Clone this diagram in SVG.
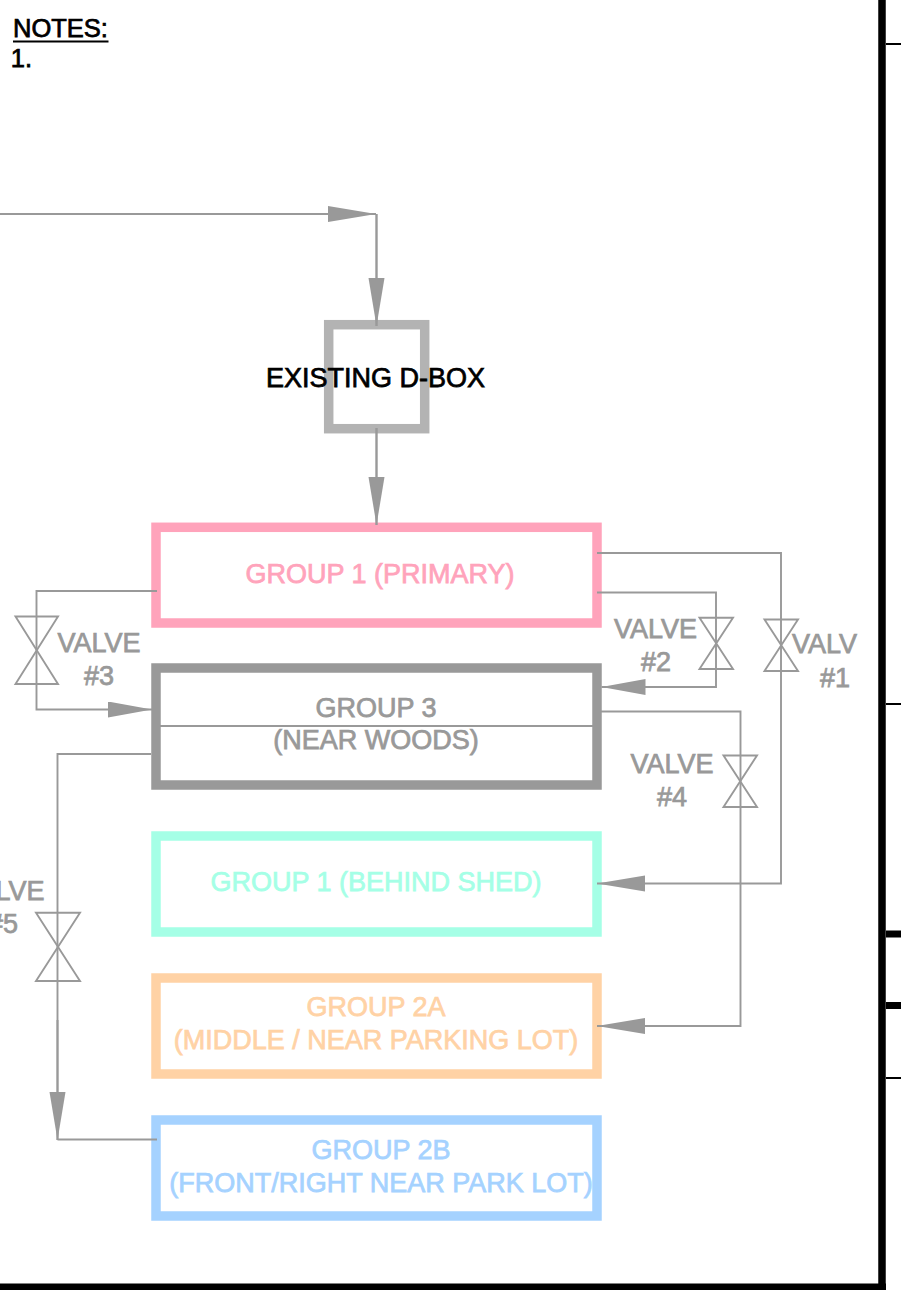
<svg xmlns="http://www.w3.org/2000/svg" width="901" height="1290" viewBox="0 0 901 1290">
<style>
text{font-family:"Liberation Sans",Arial,sans-serif;font-size:27px;text-anchor:middle;stroke-width:.75px}
.t{fill:#999;stroke:#999}
.k{fill:#000;stroke:#000}
.box{fill:none;stroke-width:9.5px}
.c{fill:none;stroke:#999;stroke-width:1.9px}
.w{stroke-width:2.4px}
.v{fill:none;stroke:#999;stroke-width:1.9px}
.f{stroke:#000;fill:none}
</style>
<defs>
<marker id="a" markerUnits="userSpaceOnUse" markerWidth="50" markerHeight="18" refX="48" refY="8" orient="auto" viewBox="0 0 50 18">
<path d="M0 0L48 8L0 16Z" fill="#999"/>
</marker>
<marker id="b" markerUnits="userSpaceOnUse" markerWidth="46" markerHeight="18" refX="44" refY="8" orient="auto" viewBox="0 0 46 18">
<path d="M0 0L44 8L0 16Z" fill="#999"/>
</marker>
</defs>
<rect width="901" height="1290" fill="#fff"/>
<g id="frame">
<path class="f" stroke-width="7.500" d="M882 0V1290"/>
<path class="f" stroke-width="7" d="M0 1287H886M886 934H901M886 1005.500H901"/>
<path class="f" stroke-width="2" d="M886 44H901M886 704H901M886 1078H901"/>
</g>
<g id="notes">
<text class="k" x="60.500" y="37" style="font-size:25.500px">NOTES:</text>
<path stroke="#000" stroke-width="2" d="M13 41.500H108.500"/>
<text class="k" x="21.500" y="67" style="font-size:25.500px">1.</text>
</g>
<g id="dbox">
<rect class="box" x="328.700" y="324.700" width="96" height="104" stroke="#b3b3b3"/>
<text class="k" x="375.500" y="387">EXISTING D-BOX</text>
</g>
<g id="group1-primary">
<rect class="box" x="156" y="527.300" width="441" height="95.700" stroke="#ffa3bb"/>
<text x="380" y="583" fill="#ffa3bb" stroke="#ffa3bb">GROUP 1 (PRIMARY)</text>
</g>
<g id="group3">
<rect class="box" x="156" y="668" width="441" height="117" stroke="#999"/>
<path class="c" d="M160 726H597"/>
<text class="t" x="376" y="717">GROUP 3</text>
<text class="t" x="376" y="749">(NEAR WOODS)</text>
</g>
<g id="group1-shed">
<rect class="box" x="156" y="836" width="441" height="96" stroke="#a5ffe6"/>
<text x="376" y="891" fill="#a5ffe6" stroke="#a5ffe6">GROUP 1 (BEHIND SHED)</text>
</g>
<g id="group2a">
<rect class="box" x="156" y="978" width="441" height="96" stroke="#ffd2a5"/>
<text x="376" y="1016" fill="#ffd2a5" stroke="#ffd2a5">GROUP 2A</text>
<text x="376" y="1049" fill="#ffd2a5" stroke="#ffd2a5">(MIDDLE / NEAR PARKING LOT)</text>
</g>
<g id="group2b">
<rect class="box" x="156" y="1120" width="441" height="96" stroke="#a5d2ff"/>
<text x="381" y="1159" fill="#a5d2ff" stroke="#a5d2ff">GROUP 2B</text>
<text x="381" y="1192" fill="#a5d2ff" stroke="#a5d2ff">(FRONT/RIGHT NEAR PARK LOT)</text>
</g>
<g id="connectors">
<path class="c" marker-end="url(#a)" d="M0 214H376"/>
<path class="c w" marker-end="url(#a)" d="M376.500 214V326"/>
<path class="c w" marker-end="url(#a)" d="M376.500 428V525"/>
<path class="c" marker-end="url(#b)" d="M157 591H36.500V709.500H152"/>
<path class="c" marker-end="url(#b)" d="M597 592.500H716V687H601.500"/>
<path class="c" marker-end="url(#a)" d="M597 553H781V883.500H597"/>
<path class="c" marker-end="url(#a)" d="M601 711.500H740.500V1026H597"/>
<path class="c" d="M151 754H57.500V1020"/>
<path class="c w" marker-end="url(#a)" d="M57.500 1020V1140"/>
<path class="c" d="M57.500 1139.500H157"/>
</g>
<g id="valve1">
<path class="v" d="M764.500 619.500H798L764.500 671H798Z"/>
<text class="t" x="792" y="653" style="text-anchor:start">VALV</text>
<text class="t" x="835" y="687">#1</text>
</g>
<g id="valve2">
<path class="v" d="M699.500 617.700H733L699.500 669H733Z"/>
<text class="t" x="655.500" y="638">VALVE</text>
<text class="t" x="656" y="671">#2</text>
</g>
<g id="valve3">
<path class="v" d="M15.500 616.500H58L15.500 684H58Z"/>
<text class="t" x="99" y="652">VALVE</text>
<text class="t" x="99" y="685">#3</text>
</g>
<g id="valve4">
<path class="v" d="M723.500 755.500H757L723.500 807H757Z"/>
<text class="t" x="672" y="773">VALVE</text>
<text class="t" x="672" y="806">#4</text>
</g>
<g id="valve5">
<path class="v" d="M36 912.700H80L36 981H80Z"/>
<text class="t" x="3" y="900">VALVE</text>
<text class="t" x="3" y="933">#5</text>
</g>
</svg>
